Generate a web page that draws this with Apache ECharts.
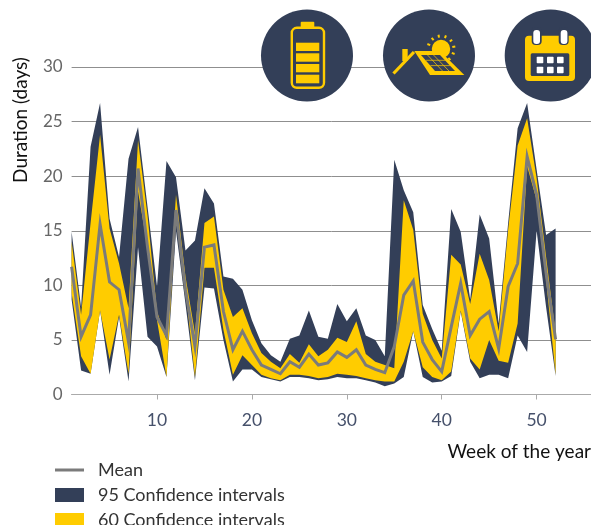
<!DOCTYPE html>
<html><head><meta charset="utf-8">
<style>html,body{margin:0;padding:0;background:#fff}#c{width:591px;height:525px}</style>
<script src="https://cdn.jsdelivr.net/npm/echarts@6/dist/echarts.min.js"></script></head>
<body><div id="c"></div>
<script>
const weeks=[1,2,3,4,5,6,7,8,9,10,11,12,13,14,15,16,17,18,19,20,21,22,23,24,25,26,27,28,29,30,31,32,33,34,35,36,37,38,39,40,41,42,43,44,45,46,47,48,49,50,51,52];
const mean=[11.7,5.3,7.3,15.6,10.3,9.6,4.8,20.7,13.5,7.1,5.4,16.9,9.6,4.4,13.5,13.7,7.6,4.1,5.8,4.1,2.7,2.3,1.9,3,2.5,3.7,2.7,2.9,3.9,3.4,4.1,2.7,2.3,2,4.4,9.1,10.4,4.8,3.2,2.1,6.2,10.2,5.4,6.9,7.6,4.2,9.9,12,21.8,18.3,11.1,5.05];
const upper95=[14.9,8,22.7,26.7,16.1,12.6,21.6,24.5,17.2,9.9,21.4,19.9,13.2,14.1,18.9,17.5,10.8,10.6,9.6,6.8,4.7,3.6,3,5.1,5.4,7.7,5.3,5.1,8.3,6.7,7.9,5.4,5,3.5,21.5,18.7,16.7,8.2,6,4,17,14.9,8.7,16.5,14.3,6.5,15.7,24.4,26.7,20.6,14.6,15.2];
const lower95=[8.7,2.2,1.9,7.7,1.8,7.1,1.2,13.5,5.3,4.4,1.6,15,8.3,1.3,9.8,9.7,5,1.2,2.3,2.3,1.6,1.4,1.2,1.6,1.6,1.5,1.3,1.4,1.6,1.5,1.5,1.3,1.1,0.75,1,1.6,5.8,1.6,1.1,1.2,1.7,7.6,3,1.5,1.8,1.8,1.5,5.4,3.9,15,8,1.7];
const upper60=[14,7.3,15.7,23.8,15.2,12,7.9,23.3,16.4,7.6,5,18.3,10.8,5.6,15.7,16.3,9.6,7.1,7.9,5.6,3.8,3,2.4,3.7,2.9,4.6,3.5,4.1,5.2,4.8,6.7,3.7,3,2.7,2.4,17.8,15.1,7.4,5,3.3,12.8,11.9,8.3,12.9,10.5,5.8,15.1,22.8,25.3,19.8,12.6,5.6];
const lower60=[9.3,3.5,1.9,7.7,3.2,7.3,1.9,18.6,13.5,6.8,1.6,16.9,9.6,1.6,11.6,11.6,5.9,1.8,3.6,2.7,1.8,1.5,1.3,1.8,1.8,1.7,1.5,1.6,1.9,1.8,1.7,1.5,1.3,1.2,1.2,3,5.8,2.5,1.6,1.3,2.1,7.7,3.3,2.3,5,3.1,2.9,6.5,20.9,17.8,10.5,1.8];
const xTicks=[10,20,30,40,50];
const seriesNames=['Mean','95 Confidence intervals','60 Confidence intervals'];
const xTitle='Week of the year', yTitle='Duration (days)';

const NAVY='#333f58',YEL='#ffcc00',GREY='#7b7b7b',FONT='Lato';
// a closed band between the lower and upper edges, placed through the chart's own axes
const band=(name,lo,hi,color,z)=>({
 type:'custom',name,z,clip:false,silent:true,
 encode:{x:0,y:[1,2]},
 data:weeks.map((w,i)=>[w,lo[i],hi[i]]),
 itemStyle:{color},
 renderItem(params,api){
  if(params.dataIndex!==0) return null;
  const top=weeks.map((w,i)=>api.coord([w,hi[i]]));
  const bottom=weeks.map((w,i)=>api.coord([w,lo[i]])).reverse();
  return {type:'polygon',shape:{points:top.concat(bottom)},style:{fill:color}};
 }
});
const R=(x,y,w,h,fill,r)=>({type:'rect',shape:{x,y,width:w,height:h,r:r||0},style:{fill},z:20});
const P=(points,fill)=>({type:'polygon',shape:{points},style:{fill},z:20});
const L=(x1,y1,x2,y2,stroke,lineWidth)=>({type:'line',shape:{x1,y1,x2,y2},style:{stroke,lineWidth},z:20});
const C=(cx,cy,r,fill)=>({type:'circle',shape:{cx,cy,r},style:{fill},z:20});
const rays=[];
for(const a of [-100,-70,-40,-10,20,50,-130,-160]){const t=a*Math.PI/180;rays.push(L(441+11.5*Math.cos(t),49+11.5*Math.sin(t),441+14.5*Math.cos(t),49+14.5*Math.sin(t),YEL,2));}
const icons=[
 C(307,55.5,46,NAVY),C(429,55.5,46,NAVY),C(550.7,55.5,46,NAVY),
 R(300.7,21.7,13.6,6,YEL,1),
 {type:'rect',shape:{x:291.8,y:27.8,width:32.2,height:60,r:5},style:{fill:NAVY,stroke:YEL,lineWidth:2.4},z:20},
 R(296,42.7,23.3,8.3,YEL),R(296,53.3,23.3,8.4,YEL),R(296,64,23.3,8.3,YEL),R(296,74.7,23.3,8.6,YEL),
 ...rays,
 {type:'circle',shape:{cx:441,cy:49,r:10},style:{fill:YEL,stroke:NAVY,lineWidth:1.5},z:20},
 R(402.3,49,5.4,12,YEL),
 L(393.5,73.5,414,52,YEL,3.2),
 P([[414.3,51],[440,51],[464.3,75],[430,75]],YEL),
 P([[421,55],[440,55],[455,71],[435,71]],NAVY),
 L(427.5,55,442.5,71,YEL,.7),L(433.5,55,449,71,YEL,.7),L(426,60.3,445.5,60.3,YEL,.7),L(430.5,65.6,450.5,65.6,YEL,.7),
 R(525,35.7,50,45.3,YEL,4),
 R(530.7,53.3,38.6,22.7,NAVY,1.5),
 R(531.7,27,10,18,NAVY,4),R(558.7,27,10,18,NAVY,4),
 R(533.3,30,6.7,14,'#fff',3),R(560.7,30,6.7,14,'#fff',3),
 ...[536.7,547,557].flatMap(x=>[56.7,66.7].map(y=>R(x,y,6.6,6.6,'#fff',.8)))
];
const chart=echarts.init(document.getElementById('c'),null,{renderer:'canvas'});
chart.setOption({
 animation:false,
 textStyle:{fontFamily:FONT},
 grid:{left:71.6,right:0,top:67,bottom:130.5,containLabel:false,outerBoundsMode:'none'},
 legend:{left:55,top:461,height:200,orient:'vertical',itemWidth:29,itemHeight:14,itemGap:7,padding:0,
  textStyle:{fontFamily:FONT,fontSize:18,lineHeight:14,color:'#333',padding:[0,0,0,9]},
  data:[{name:seriesNames[0],icon:'path://M0,0L29,0L29,3L0,3Z',itemStyle:{color:GREY}},
        {name:seriesNames[1],icon:'rect',itemStyle:{color:NAVY}},
        {name:seriesNames[2],icon:'rect',itemStyle:{color:YEL}}]},
 xAxis:{type:'value',min:1,max:55.73,
  name:xTitle,nameLocation:'end',nameGap:0,
  nameTextStyle:{fontFamily:FONT,fontSize:19,color:'#111',align:'right',verticalAlign:'top',padding:[48,0,0,0]},
  axisLine:{show:true,lineStyle:{color:'#aaa',width:1}},
  axisTick:{show:true,length:5,customValues:xTicks,lineStyle:{color:'#aaa'}},
  axisLabel:{customValues:xTicks,fontFamily:FONT,fontSize:17.5,color:'#46516b',margin:17},
  splitLine:{show:false}},
 yAxis:{type:'value',min:0,max:30,interval:5,
  name:yTitle,nameLocation:'end',nameGap:-53,nameRotate:90,
  nameTextStyle:{fontFamily:FONT,fontSize:19,color:'#111',align:'center',verticalAlign:'bottom',padding:[0,0,41,0]},
  axisLine:{show:false},axisTick:{show:false},
  axisLabel:{fontFamily:FONT,fontSize:17,color:'#666',margin:9},
  splitLine:{show:true,lineStyle:{color:'#8f8f8f',width:1}}},
 series:[
  band(seriesNames[1],lower95,upper95,NAVY,2),
  band(seriesNames[2],lower60,upper60,YEL,3),
  {type:'line',name:seriesNames[0],data:weeks.map((w,i)=>[w,mean[i]]),symbol:'none',lineStyle:{color:GREY,width:3,join:'miter'},itemStyle:{color:GREY},z:4}
 ],
 graphic:{elements:icons}
});
</script></body></html>
